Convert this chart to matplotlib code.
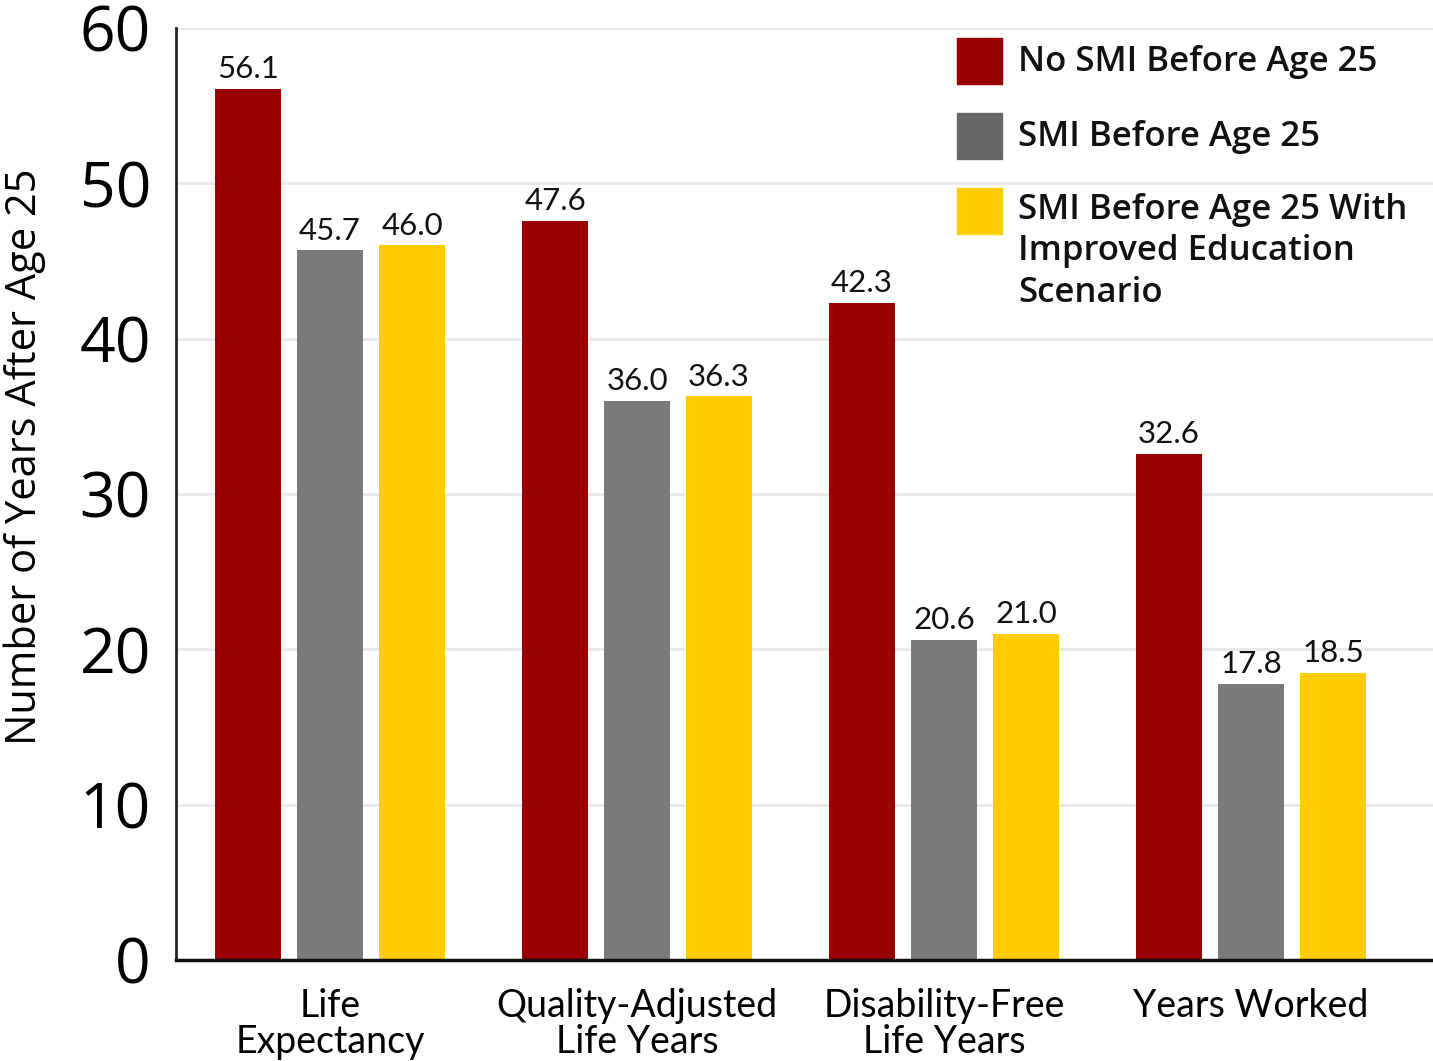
import matplotlib
matplotlib.use("Agg")
import matplotlib.pyplot as plt
import numpy as np
from matplotlib.patches import Rectangle

categories = ["Life\nExpectancy", "Quality-Adjusted\nLife Years", "Disability-Free\nLife Years", "Years Worked"]
series_names = ["No SMI Before Age 25", "SMI Before Age 25",
                "SMI Before Age 25 With\nImproved Education\nScenario"]
no_smi = [56.1, 47.6, 42.3, 32.6]
smi = [45.7, 36.0, 20.6, 17.8]
smi_edu = [46.0, 36.3, 21.0, 18.5]
y_ticks = [0, 10, 20, 30, 40, 50, 60]

bar_colors = ["#990000", "#7a7a7a", "#ffcc00"]
legend_colors = ["#990000", "#666666", "#ffcc00"]

fig = plt.figure(figsize=(14.33, 10.61), dpi=100)
ax = fig.add_axes([176/1433, 101/1061, 1 - 176/1433, (960-28)/1061])

x = np.arange(len(categories))
step = 0.267
width = 0.215
for i, (vals, col) in enumerate(zip([no_smi, smi, smi_edu], bar_colors)):
    bars = ax.bar(x + (i - 1) * step, vals, width=width, color=col, zorder=3)
    ax.bar_label(bars, labels=[f"{v:.1f}" for v in vals], padding=4,
                 fontsize=22.5, family="Lato", color="#111111")

ax.set_xlim(-0.502, 3.593)
ax.set_ylim(0, 60)
ax.set_yticks(y_ticks)
ax.set_yticklabels([str(t) for t in y_ticks], fontsize=45, family="Open Sans")
ax.set_xticks(x)
ax.set_xticklabels(categories, fontsize=27, family="Lato", linespacing=1.02)
ax.tick_params(axis="both", length=0)
ax.tick_params(axis="y", pad=18)
ax.tick_params(axis="x", pad=20)
ax.grid(axis="y", color="#e8e8e8", lw=2, zorder=0)
for s in ["top", "right"]:
    ax.spines[s].set_visible(False)
ax.spines["left"].set_linewidth(2)
ax.spines["left"].set_color("#222222")
ax.spines["bottom"].set_linewidth(2.5)
ax.spines["bottom"].set_color("#111111")
ax.spines["bottom"].set_zorder(4)

fig.text(25/1433, 1 - 457/1061, "Number of Years After Age 25", rotation=90,
         ha="center", va="center", fontsize=30, family="Open Sans")

# legend
W, H = 1433, 1061
patch_tops = [38, 113, 188]
text_ys = [60, 135, 208]
for top, ty, col, name in zip(patch_tops, text_ys, legend_colors, series_names):
    fig.patches.append(Rectangle((957/W, 1 - (top + 46)/H), 45/W, 46/H,
                                 transform=fig.transFigure, color=col, zorder=5))
    fig.text(1018/W, 1 - (ty - 15)/H, name, ha="left", va="top", fontsize=25,
             family="Open Sans", weight="semibold", linespacing=1.28, color="#111111")

fig.savefig("out.png", dpi=100)
